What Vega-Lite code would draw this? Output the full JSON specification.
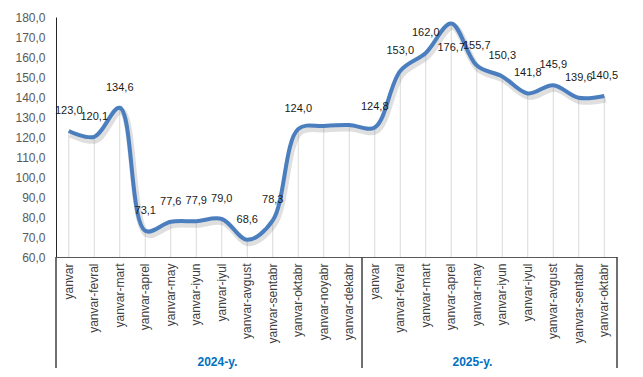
{
  "$schema": "https://vega.github.io/schema/vega-lite/v6.json",
  "width": 561,
  "height": 240,
  "autosize": {"type": "none"},
  "padding": {"left": 56, "top": 17, "right": 26, "bottom": 120},
  "config": {
    "locale": {"number": {"decimal": ",", "thousands": " ", "grouping": [3], "currency": ["", ""]}},
    "view": {"stroke": null},
    "font": "Liberation Sans"
  },
  "data": {
    "values": [
      {"key": "yanvar (2024)", "year": "2024-y.", "value": 123.0, "labelled": true},
      {"key": "yanvar-fevral (2024)", "year": "2024-y.", "value": 120.1, "labelled": true},
      {"key": "yanvar-mart (2024)", "year": "2024-y.", "value": 134.6, "labelled": true},
      {"key": "yanvar-aprel (2024)", "year": "2024-y.", "value": 73.1, "labelled": true},
      {"key": "yanvar-may (2024)", "year": "2024-y.", "value": 77.6, "labelled": true},
      {"key": "yanvar-iyun (2024)", "year": "2024-y.", "value": 77.9, "labelled": true},
      {"key": "yanvar-iyul (2024)", "year": "2024-y.", "value": 79.0, "labelled": true},
      {"key": "yanvar-avgust (2024)", "year": "2024-y.", "value": 68.6, "labelled": true},
      {"key": "yanvar-sentabr (2024)", "year": "2024-y.", "value": 78.3, "labelled": true},
      {"key": "yanvar-oktabr (2024)", "year": "2024-y.", "value": 124.0, "labelled": true},
      {"key": "yanvar-noyabr (2024)", "year": "2024-y.", "value": 125.5, "labelled": false},
      {"key": "yanvar-dekabr (2024)", "year": "2024-y.", "value": 126.0, "labelled": false},
      {"key": "yanvar (2025)", "year": "2025-y.", "value": 124.8, "labelled": true},
      {"key": "yanvar-fevral (2025)", "year": "2025-y.", "value": 153.0, "labelled": true},
      {"key": "yanvar-mart (2025)", "year": "2025-y.", "value": 162.0, "labelled": true},
      {"key": "yanvar-aprel (2025)", "year": "2025-y.", "value": 176.7, "labelled": true},
      {"key": "yanvar-may (2025)", "year": "2025-y.", "value": 155.7, "labelled": true},
      {"key": "yanvar-iyun (2025)", "year": "2025-y.", "value": 150.3, "labelled": true},
      {"key": "yanvar-iyul (2025)", "year": "2025-y.", "value": 141.8, "labelled": true},
      {"key": "yanvar-avgust (2025)", "year": "2025-y.", "value": 145.9, "labelled": true},
      {"key": "yanvar-sentabr (2025)", "year": "2025-y.", "value": 139.6, "labelled": true},
      {"key": "yanvar-oktabr (2025)", "year": "2025-y.", "value": 140.5, "labelled": true}
    ]
  },
  "encoding": {
    "x": {
      "field": "key",
      "type": "nominal",
      "sort": null,
      "scale": {"paddingInner": 0, "paddingOuter": 0},
      "axis": {
        "title": null,
        "labelAngle": -90,
        "labelExpr": "split(datum.value, ' (')[0]",
        "labelFontSize": 12,
        "labelColor": "#404040",
        "ticks": false,
        "labelPadding": 6,
        "domainColor": "#595959",
        "grid": false
      }
    },
    "y": {
      "field": "value",
      "type": "quantitative",
      "scale": {"domain": [60, 180], "nice": false, "zero": false},
      "axis": {
        "title": null,
        "values": [60, 70, 80, 90, 100, 110, 120, 130, 140, 150, 160, 170, 180],
        "format": ".1f",
        "ticks": false,
        "labelPadding": 11,
        "labelFontSize": 12,
        "labelColor": "#595959",
        "domainColor": "#262626",
        "grid": false
      }
    }
  },
  "layer": [
    {
      "mark": {"type": "rule", "stroke": "#d9d9d9", "strokeWidth": 1},
      "encoding": {"y": {"datum": 60}, "y2": {"field": "value"}}
    },
    {
      "transform": [{"filter": "datum.key == 'yanvar (2024)' || datum.key == 'yanvar (2025)'"}],
      "mark": {"type": "rule", "stroke": "#404040", "strokeWidth": 1.5},
      "encoding": {"x": {"field": "key", "type": "nominal", "sort": null, "bandPosition": 0}, "y": {"datum": 60}, "y2": {"datum": 4.5}}
    },
    {
      "transform": [{"filter": "datum.key == 'yanvar-oktabr (2025)'"}],
      "mark": {"type": "rule", "stroke": "#404040", "strokeWidth": 1.5},
      "encoding": {"x": {"field": "key", "type": "nominal", "sort": null, "bandPosition": 1}, "y": {"datum": 60}, "y2": {"datum": 4.5}}
    },
    {
      "transform": [{"filter": "datum.key == 'yanvar-iyul (2024)' || datum.key == 'yanvar-may (2025)'"}],
      "mark": {"type": "text", "fontSize": 12, "fontWeight": "bold", "color": "#0070C0", "align": "center", "baseline": "middle"},
      "encoding": {"x": {"field": "key", "type": "nominal", "sort": null, "bandPosition": 0.33}, "y": {"datum": 7.5}, "text": {"field": "year"}}
    },
    {
      "mark": {"type": "line", "interpolate": "catmull-rom", "stroke": "#7f7f7f", "strokeWidth": 7, "opacity": 0.25, "xOffset": 1.5, "yOffset": 3}
    },
    {
      "mark": {"type": "line", "interpolate": "catmull-rom", "stroke": "#4a7ebf", "strokeWidth": 4}
    },
    {
      "transform": [{"filter": "datum.labelled && datum.value < 170"}],
      "mark": {"type": "text", "fontSize": 11, "color": "#1a1a1a", "dy": -20},
      "encoding": {"text": {"field": "value", "type": "quantitative", "format": ".1f"}}
    },
    {
      "transform": [{"filter": "datum.value >= 170"}],
      "mark": {"type": "text", "fontSize": 11, "color": "#1a1a1a", "dy": 24},
      "encoding": {"text": {"field": "value", "type": "quantitative", "format": ".1f"}}
    }
  ]
}
